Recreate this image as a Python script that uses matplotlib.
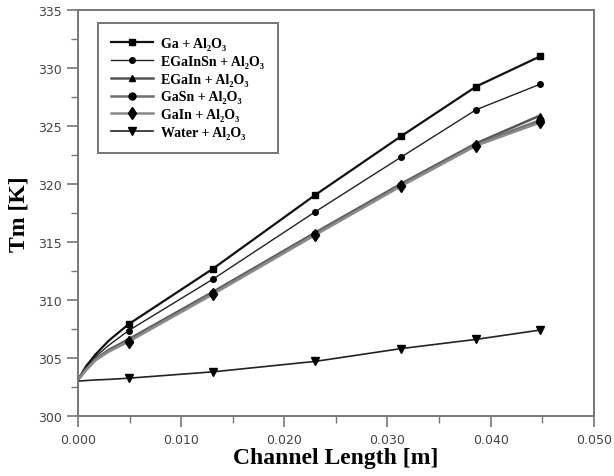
import matplotlib.pyplot as plt
from matplotlib.ticker import MultipleLocator, FormatStrFormatter

# channel positions of the probe points [m]
x_inlet = [0.0, 0.0008, 0.0017, 0.0030]
x_probe = [0.0049, 0.0131, 0.0230, 0.0313, 0.0386, 0.0448]

# mean temperature Tm [K]: near-inlet profile + probe points
ga_inlet = [303.1, 304.3, 305.3, 306.5]
ga = [307.9, 312.7, 319.05, 324.1, 328.4, 331.0]
egainsn_inlet = [303.1, 304.2, 305.1, 306.1]
egainsn = [307.35, 311.8, 317.6, 322.3, 326.4, 328.6]
egain_inlet = [303.1, 304.05, 304.9, 305.7]
egain = [306.6, 310.7, 315.8, 320.0, 323.5, 325.9]
gasn_inlet = [303.1, 304.0, 304.85, 305.6]
gasn = [306.5, 310.6, 315.7, 319.9, 323.4, 325.5]
gain_inlet = [303.1, 303.95, 304.8, 305.55]
gain = [306.4, 310.5, 315.6, 319.8, 323.3, 325.3]
water_inlet = [303.0, 303.05, 303.1, 303.15]
water = [303.25, 303.8, 304.7, 305.8, 306.6, 307.4]

labels = ['Ga + Al₂O₃', 'EGaInSn + Al₂O₃', 'EGaIn + Al₂O₃',
          'GaSn + Al₂O₃', 'GaIn + Al₂O₃', 'Water + Al₂O₃']
series = [(ga_inlet, ga), (egainsn_inlet, egainsn), (egain_inlet, egain),
          (gasn_inlet, gasn), (gain_inlet, gain), (water_inlet, water)]
styles = [
    dict(color='#111111', lw=1.6, marker='s', ms=5),
    dict(color='#222222', lw=1.0, marker='o', ms=4),
    dict(color='#555555', lw=1.8, marker='^', ms=5),
    dict(color='#707070', lw=1.8, marker='o', ms=5),
    dict(color='#8a8a8a', lw=1.8, marker='d', ms=6),
    dict(color='#222222', lw=1.2, marker='v', ms=5.5),
]

serif = ['Liberation Serif', 'DejaVu Serif']

fig = plt.figure(figsize=(6.14, 4.77), dpi=100)
ax = fig.add_axes([0.127, 0.126, 0.840, 0.851])

n_in = len(x_inlet)
for (inlet, probe), lab, st in zip(series, labels, styles):
    xs = x_inlet + x_probe
    ys = inlet + probe
    ax.plot(xs, ys, label=lab, color=st['color'], lw=st['lw'],
            marker=st['marker'], ms=st['ms'], mfc='black', mec='black',
            markevery=list(range(n_in, len(xs))))

ax.set_xlim(0, 0.05)
ax.set_ylim(300, 335)
ax.xaxis.set_major_locator(MultipleLocator(0.01))
ax.xaxis.set_minor_locator(MultipleLocator(0.005))
ax.xaxis.set_major_formatter(FormatStrFormatter('%.3f'))
ax.yaxis.set_major_locator(MultipleLocator(5))
ax.yaxis.set_minor_locator(MultipleLocator(2.5))

for sp in ax.spines.values():
    sp.set_color('#777777')
    sp.set_linewidth(1.4)
ax.tick_params(which='major', direction='out', length=8, width=1.2,
               color='#777777', labelcolor='#444444', labelsize=9)
ax.tick_params(which='minor', direction='out', length=5, width=1.0,
               color='#777777')
ax.tick_params(axis='x', pad=4)

ax.set_xlabel('Channel Length [m]', family=serif, fontweight='bold',
              fontsize=17, labelpad=1)
ax.set_ylabel('Tm [K]', family=serif, fontweight='bold', fontsize=17,
              labelpad=6)

leg = ax.legend(loc='upper left', bbox_to_anchor=(0.038, 0.968),
                prop=dict(family=serif, weight='bold', size=10),
                handlelength=3.0, labelspacing=0.35, borderpad=1.0,
                handletextpad=0.6, fancybox=False, framealpha=1,
                edgecolor='#777777', borderaxespad=0)
leg.get_frame().set_linewidth(1.4)

fig.savefig('out.png', dpi=100)
